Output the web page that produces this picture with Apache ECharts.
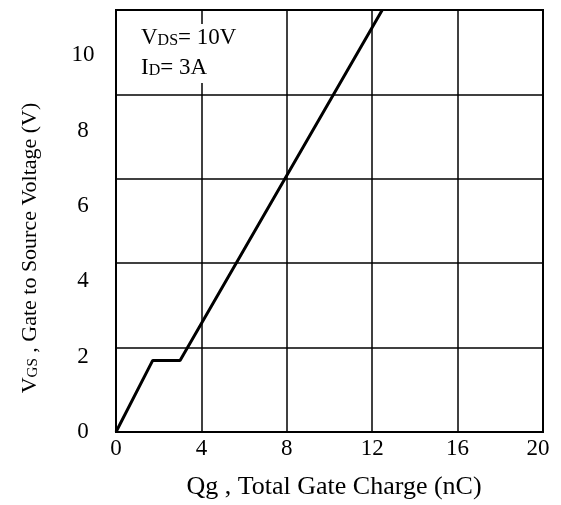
<!DOCTYPE html>
<html><head><meta charset="utf-8">
<script src="https://cdn.jsdelivr.net/npm/echarts@6/dist/echarts.min.js"></script>
<style>html,body{margin:0;padding:0;background:#fff}#c{width:561px;height:505px}</style>
</head><body><div id="c"></div>
<script>
// data
const qgValues = [0, 1.72, 3.0, 12.47];   // Qg, nC
const vgsValues = [0, 1.90, 1.90, 11.2];  // VGS, V
const xTickLabels = [0, 4, 8, 12, 16, 20];
const yTickLabels = [0, 2, 4, 6, 8, 10];
const yTop = 11.2;        // top of the plot box in volts
const gridDivisions = 5;  // horizontal grid cells

const FONT = '"Liberation Serif", "Times New Roman", serif';
const chart = echarts.init(document.getElementById('c'));

const option = {
  animation: false,
  backgroundColor: '#fff',
  grid: { left: 116, right: 18, top: 10, bottom: 73, show: true, borderColor: '#000', borderWidth: 2 },
  xAxis: {
    type: 'value', min: xTickLabels[0], max: xTickLabels[xTickLabels.length - 1], interval: 4,
    axisLine: { lineStyle: { color: '#000', width: 2 } },
    axisTick: { show: false },
    splitLine: { show: true, lineStyle: { color: '#000', width: 1.5 } },
    axisLabel: {
      margin: 5, color: '#000',
      formatter: v => v === 20 ? '{last|' + v + '}' : '{n|' + v + '}',
      rich: {
        n: { fontFamily: FONT, fontSize: 23, color: '#000' },
        last: { fontFamily: FONT, fontSize: 23, color: '#000', padding: [0, 10, 0, 0] }
      }
    }
  },
  yAxis: [{
    type: 'value', min: 0, max: yTop, interval: 2,
    axisLine: { show: true, lineStyle: { color: '#000', width: 2 } },
    axisTick: { show: false },
    splitLine: { show: false },
    axisLabel: {
      showMaxLabel: false, margin: 33, align: 'center', color: '#000',
      fontFamily: FONT, fontSize: 23, padding: [0, 0, 6, 0],
      formatter: v => yTickLabels.indexOf(v) >= 0 ? String(v) : ''
    }
  }, {
    type: 'value', min: 0, max: gridDivisions, interval: 1, position: 'left',
    axisLine: { show: false }, axisTick: { show: false }, axisLabel: { show: false },
    splitLine: { show: true, lineStyle: { color: '#000', width: 1.5 } }
  }],
  series: [{
    type: 'line', yAxisIndex: 0, symbol: 'none',
    data: qgValues.map((q, i) => [q, vgsValues[i]]),
    lineStyle: { color: '#000', width: 3 }, z: 5
  }],
  graphic: [
    { type: 'rect', z: 100, shape: { x: 138, y: 24, width: 108, height: 59 }, style: { fill: '#fff' } },
    { type: 'text', z: 101, x: 141, y: 37.5, style: {
      text: '{a|V}{b|DS}{a|= 10V}', align: 'left', verticalAlign: 'middle',
      rich: { a: { fontFamily: FONT, fontSize: 23, fill: '#000', verticalAlign: 'bottom', lineHeight: 23 },
              b: { fontFamily: FONT, fontSize: 16, fill: '#000', verticalAlign: 'bottom', lineHeight: 23 } } } },
    { type: 'text', z: 101, x: 141, y: 67.5, style: {
      text: '{a|I}{b|D}{a|= 3A}', align: 'left', verticalAlign: 'middle',
      rich: { a: { fontFamily: FONT, fontSize: 23, fill: '#000', verticalAlign: 'bottom', lineHeight: 23 },
              b: { fontFamily: FONT, fontSize: 16, fill: '#000', verticalAlign: 'bottom', lineHeight: 23 } } } },
    { type: 'text', z: 101, x: 30, y: 248, rotation: Math.PI / 2, style: {
      text: '{a|V}{b|GS}{a| , Gate to Source Voltage (V)}', align: 'center', verticalAlign: 'middle',
      rich: { a: { fontFamily: FONT, fontSize: 22, fill: '#000', verticalAlign: 'bottom', lineHeight: 22 },
              b: { fontFamily: FONT, fontSize: 15, fill: '#000', verticalAlign: 'bottom', lineHeight: 22 } } } },
    { type: 'text', z: 101, x: 334, y: 487, style: {
      text: 'Qg , Total Gate Charge (nC)', align: 'center', verticalAlign: 'middle',
      fontFamily: FONT, fontSize: 26, fill: '#000' } }
  ]
};
chart.setOption(option);
</script></body></html>
